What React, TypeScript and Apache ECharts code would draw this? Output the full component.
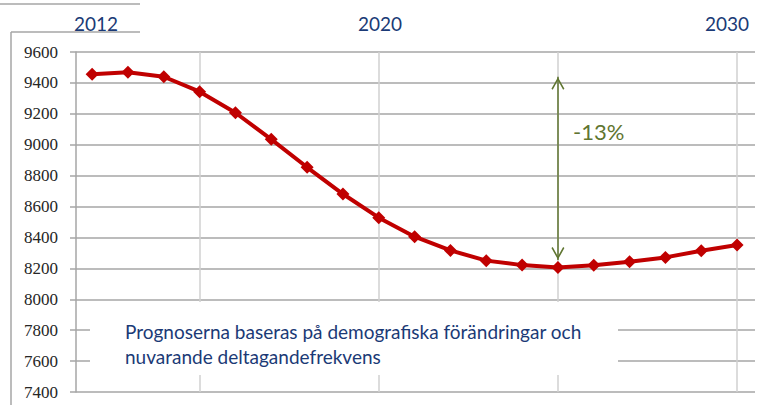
import React, { useEffect, useRef } from "react";
import * as echarts from "echarts";

const years = [2012, 2013, 2014, 2015, 2016, 2017, 2018, 2019, 2020, 2021, 2022, 2023, 2024, 2025, 2026, 2027, 2028, 2029, 2030];
const values = [9456, 9469, 9440, 9343, 9207, 9035, 8854, 8681, 8528, 8405, 8316, 8250, 8221, 8206, 8220, 8243, 8271, 8314, 8351];
const yTicks = [7400, 7600, 7800, 8000, 8200, 8400, 8600, 8800, 9000, 9200, 9400, 9600];
const verticalGridYears = [2015, 2020, 2025, 2030];
const topLabels = ["2012", "2020", "2030"];
const arrowYear = 2025;
const arrowFrom = 9440;
const arrowTo = 8254;
const changeLabel = "-13%";
const noteLines = [
  "Prognoserna baseras på demografiska förändringar och",
  "nuvarande deltagandefrekvens",
];

// open chevron whose tip sits at the centre of its bounding box
const chevron = "path://M5,0 M5,10 L10,18.6 L9,19.4 L5,12.4 L1,19.4 L0,18.6 Z";

export default function App() {
  const ref = useRef<HTMLDivElement>(null);
  useEffect(() => {
    document.body.style.margin = "0";
    const chart = echarts.init(ref.current!, undefined, { renderer: "svg" });
    const navy = "#1B3A76";
    const olive = "#5F7530";
    const grid = "#A6A6A6";
    const serif = "Liberation Serif";
    chart.setOption({
      animation: false,
      backgroundColor: "#fff",
      grid: { left: 76, right: 7, top: 52, bottom: 13, containLabel: false },
      xAxis: {
        type: "value",
        min: 2011.55,
        max: 2030.5,
        axisLine: { show: false },
        axisTick: { show: false },
        axisLabel: { show: false },
        splitLine: { show: false },
      },
      yAxis: {
        type: "value",
        min: 7400,
        max: 9600,
        interval: 200,
        axisLine: { show: true, lineStyle: { color: grid, width: 1.5 } },
        axisTick: { show: true, length: 6, lineStyle: { color: grid, width: 1.5 } },
        axisLabel: { show: false },
        splitLine: { show: true, lineStyle: { color: grid, width: 1.5 } },
      },
      series: [
        {
          type: "line",
          data: [],
          silent: true,
          markLine: {
            silent: true,
            symbol: ["none", "none"],
            label: { show: false },
            lineStyle: { color: "#D0D0D0", width: 1.5, type: "solid" },
            data: verticalGridYears.map((y) => ({ xAxis: y })),
            z: 1,
          },
        },
        {
          type: "line",
          data: years.map((y, i) => [y, values[i]]),
          symbol: "diamond",
          symbolSize: 13,
          lineStyle: { color: "#C00000", width: 4 },
          itemStyle: { color: "#C00000" },
          z: 5,
          markLine: {
            silent: true,
            symbol: [chevron, chevron],
            symbolSize: [13, 26],
            label: { show: false },
            lineStyle: { color: olive, width: 1.5, type: "solid" },
            data: [[{ coord: [arrowYear, arrowFrom] }, { coord: [arrowYear, arrowTo] }]],
          },
        },
      ],
      graphic: [
        { type: "line", shape: { x1: 0, y1: 4, x2: 140, y2: 4 }, style: { stroke: grid, lineWidth: 1.5 } },
        { type: "line", shape: { x1: 11, y1: 32, x2: 140, y2: 32 }, style: { stroke: grid, lineWidth: 1.5 } },
        { type: "line", shape: { x1: 11, y1: 32, x2: 11, y2: 405 }, style: { stroke: grid, lineWidth: 1.5 } },
        {
          type: "rect",
          shape: { x: 90, y: 302, width: 528, height: 73 },
          style: { fill: "#fff" },
          z: 10,
        },
        {
          type: "text",
          x: 125,
          y: 331,
          z: 11,
          style: { text: noteLines[0], fill: navy, font: "19px Lato", verticalAlign: "middle", align: "left" },
        },
        {
          type: "text",
          x: 125,
          y: 356,
          z: 11,
          style: { text: noteLines[1], fill: navy, font: "19px Lato", verticalAlign: "middle", align: "left" },
        },
        {
          type: "text",
          x: 96,
          y: 23,
          z: 11,
          style: { text: topLabels[0], fill: navy, font: "19px Lato", verticalAlign: "middle", align: "center" },
        },
        {
          type: "text",
          x: 380,
          y: 23,
          z: 11,
          style: { text: topLabels[1], fill: navy, font: "19px Lato", verticalAlign: "middle", align: "center" },
        },
        {
          type: "text",
          x: 727,
          y: 23,
          z: 11,
          style: { text: topLabels[2], fill: navy, font: "19px Lato", verticalAlign: "middle", align: "center" },
        },
        {
          type: "text",
          x: 573,
          y: 131,
          z: 11,
          style: { text: changeLabel, fill: olive, font: "22px Lato", verticalAlign: "middle", align: "left" },
        },
      ],
    });
    const labelGraphics = yTicks.map((v, i) => {
      const py = chart.convertToPixel({ yAxisIndex: 0 }, v) as number;
      return {
        id: "ylab" + i,
        type: "text",
        x: 58,
        y: py,
        z: 11,
        style: {
          text: String(v),
          fill: "#262626",
          font: "17px " + serif,
          verticalAlign: "middle",
          align: "right",
        },
      };
    });
    chart.setOption({ graphic: labelGraphics });
    return () => chart.dispose();
  }, []);
  return <div ref={ref} style={{ position: "absolute", left: 0, top: 0, width: 762, height: 405 }} />;
}
